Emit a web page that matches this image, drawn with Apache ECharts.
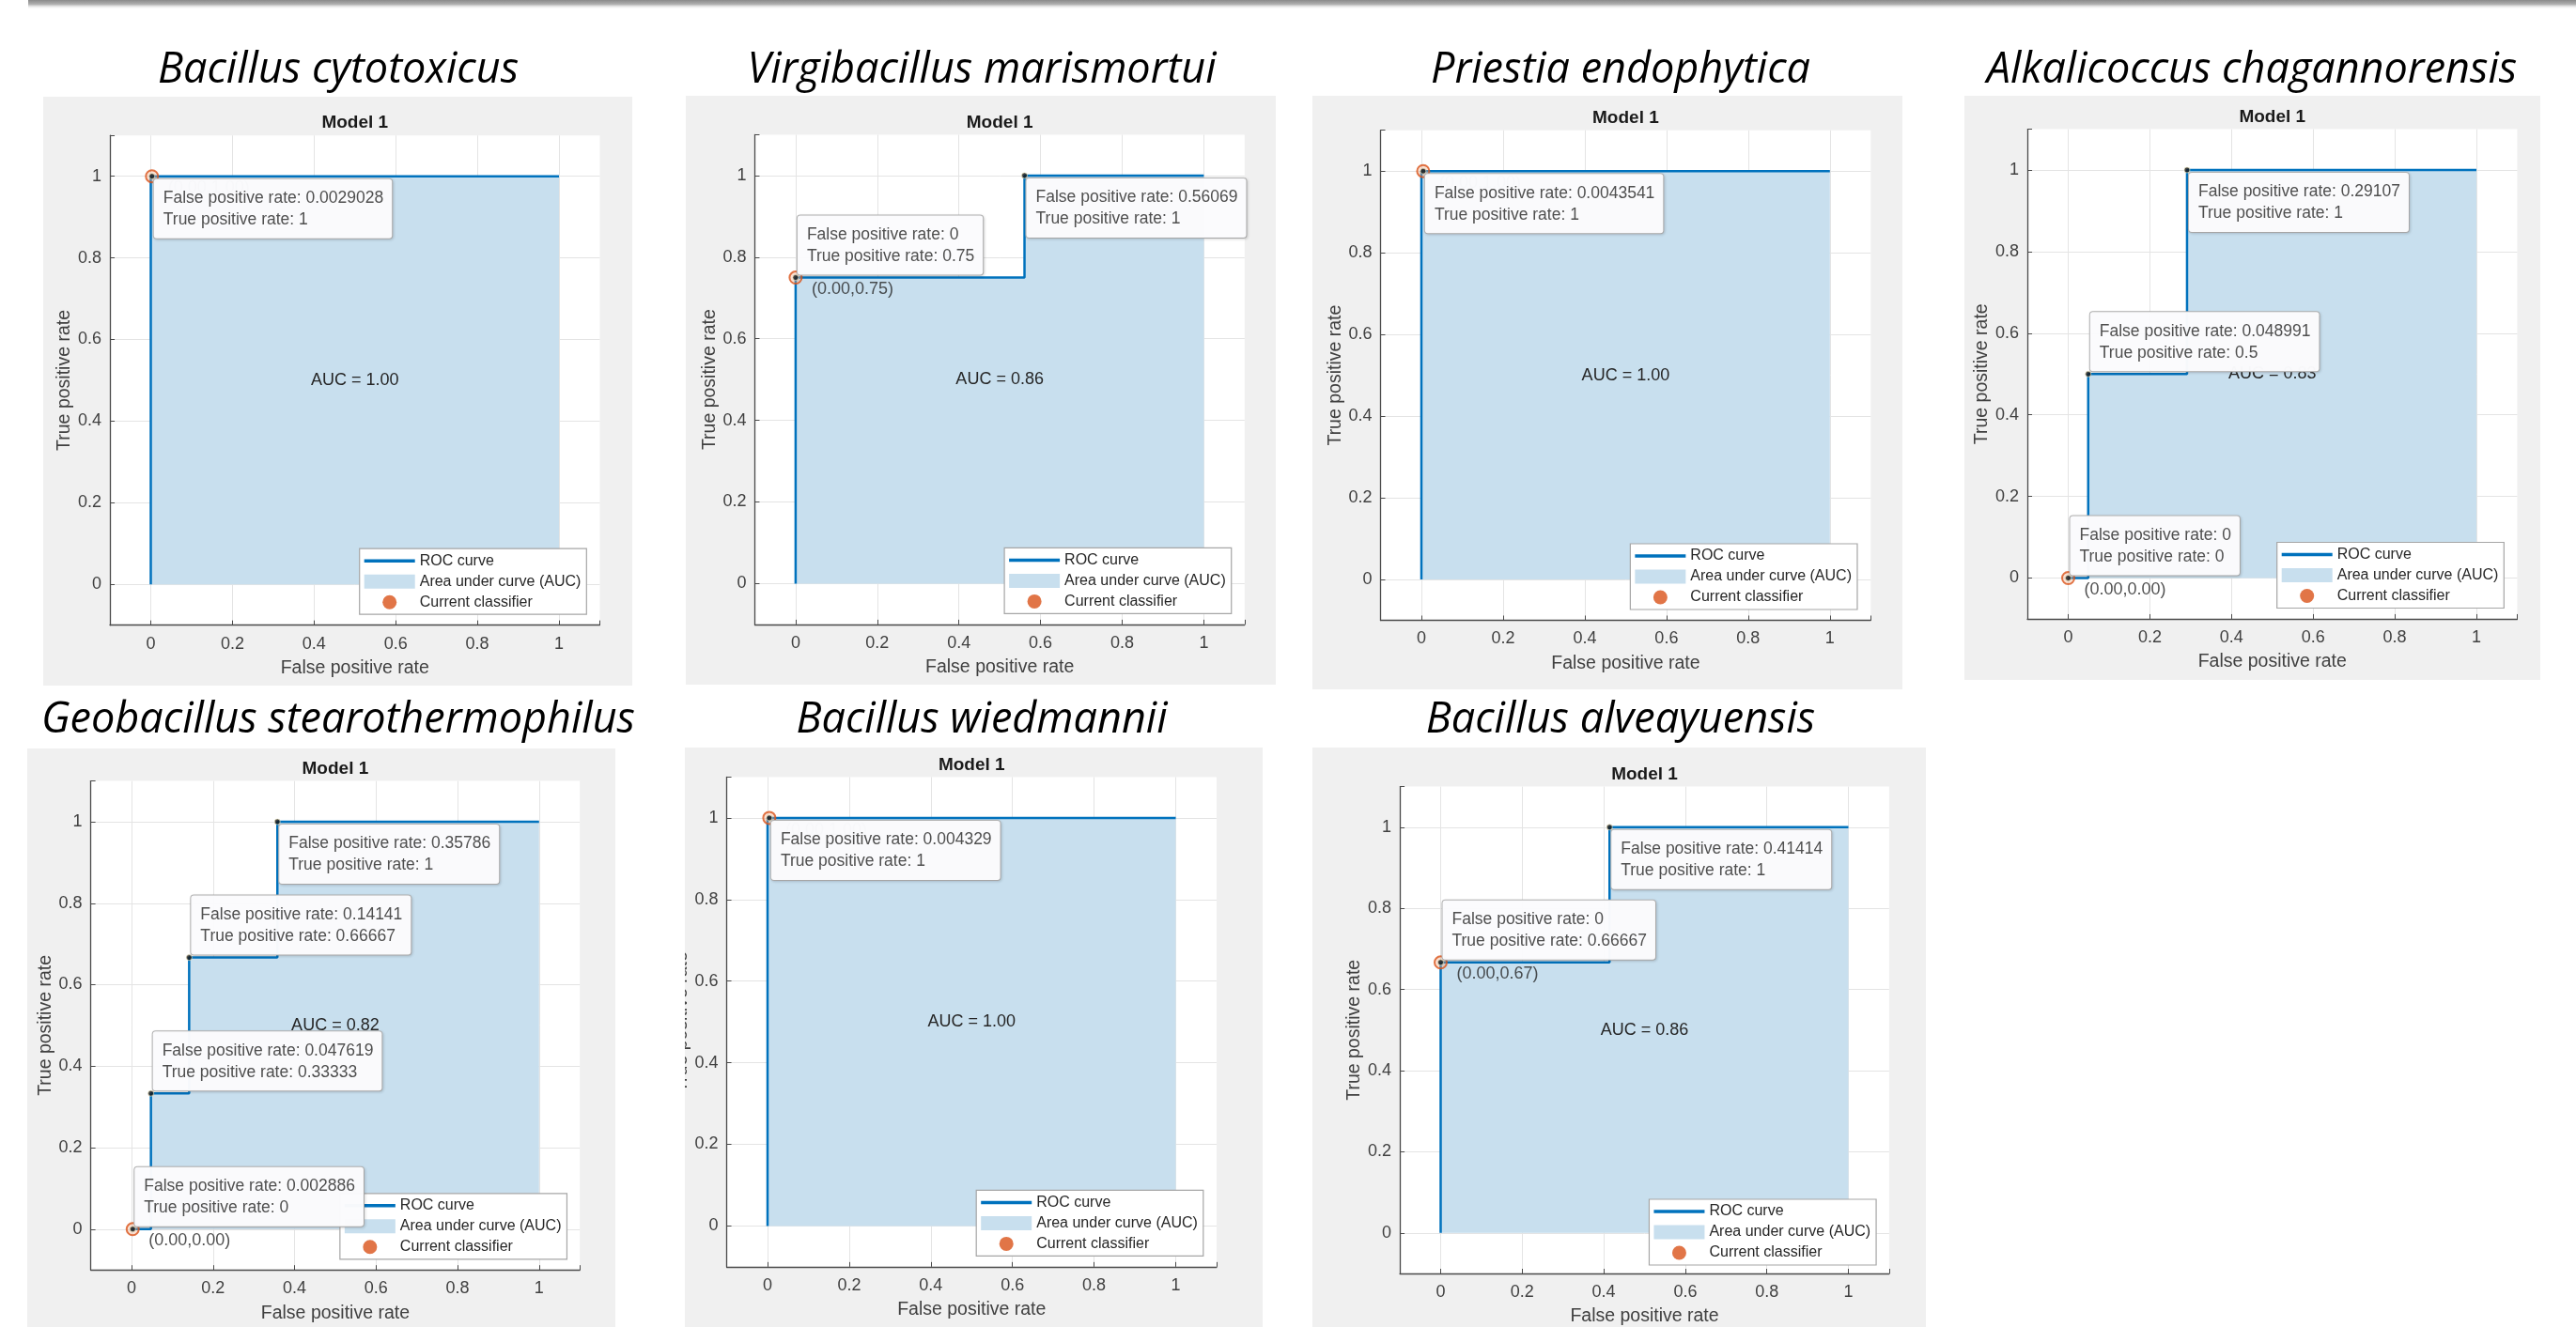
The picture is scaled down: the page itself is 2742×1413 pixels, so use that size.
<!DOCTYPE html>
<html><head><meta charset="utf-8">
<script src="https://cdn.jsdelivr.net/npm/echarts@6/dist/echarts.min.js"></script>
<style>html,body{margin:0;padding:0;background:#fff;}#c{width:2742px;height:1413px;}</style>
</head><body><div id="c"></div>
<script>
// ---------------- DATA ----------------
const speciesNames = ['Bacillus cytotoxicus','Virgibacillus marismortui','Priestia endophytica','Alkalicoccus chagannorensis','Geobacillus stearothermophilus','Bacillus wiedmannii','Bacillus alveayuensis'];
const modelTitle = 'Model 1';
const rocFpr = [
  [0, 0, 0.0029028, 1],
  [0, 0, 0.56069, 0.56069, 1],
  [0, 0, 0.0043541, 1],
  [0, 0.048991, 0.048991, 0.29107, 0.29107, 1],
  [0, 0.047619, 0.047619, 0.14141, 0.14141, 0.35786, 0.35786, 1],
  [0, 0, 0.004329, 1],
  [0, 0, 0.41414, 0.41414, 1]
];
const rocTpr = [
  [0, 1, 1, 1],
  [0, 0.75, 0.75, 1, 1],
  [0, 1, 1, 1],
  [0, 0, 0.5, 0.5, 1, 1],
  [0, 0, 0.33333, 0.33333, 0.66667, 0.66667, 1, 1],
  [0, 1, 1, 1],
  [0, 0.66667, 0.66667, 1, 1]
];
const aucValues = [1.00, 0.86, 1.00, 0.83, 0.82, 1.00, 0.86];
const classifierFpr = [0.0029028, 0, 0.0043541, 0, 0.002886, 0.004329, 0];
const classifierTpr = [1, 0.75, 1, 0, 0, 1, 0.66667];
const tipFpr = [[0.0029028], [0, 0.56069], [0.0043541], [0.29107, 0.048991, 0], [0.35786, 0.14141, 0.047619, 0.002886], [0.004329], [0.41414, 0]];
const tipTpr = [[1], [0.75, 1], [1], [1, 0.5, 0], [1, 0.66667, 0.33333, 0], [1], [1, 0.66667]];
const tickLabels = ['0', '0.2', '0.4', '0.6', '0.8', '1'];
const legendNames = ['ROC curve', 'Area under curve (AUC)', 'Current classifier'];
const xAxisName = 'False positive rate';
const yAxisName = 'True positive rate';

// ---------------- LAYOUT / STYLE ----------------
const tipPlace = [['below'], ['above', 'below'], ['below'], ['below', 'above', 'above'], ['below', 'above', 'above', 'above'], ['below'], ['below', 'above']];
const panels = [
  {x0: 160.5, y1: 187.7, u: 434.5, bg: [46, 103, 673, 730], tx: 360, ty: 75},
  {x0: 846.9, y1: 186.9, u: 434.5, bg: [730, 102, 1358, 729], tx: 1045, ty: 75},
  {x0: 1513, y1: 182.2, u: 434.8, bg: [1397, 102, 2025, 734], tx: 1725, ty: 75},
  {x0: 2201.5, y1: 181, u: 434.5, bg: [2091, 102, 2704, 724], tx: 2397, ty: 75},
  {x0: 140, y1: 875, u: 433.8, bg: [29, 797, 655, 1413], tx: 360, ty: 767},
  {x0: 817, y1: 870.9, u: 434.5, bg: [729, 796, 1344, 1413], tx: 1045, ty: 767},
  {x0: 1533.5, y1: 881, u: 434, bg: [1397, 796, 2050, 1413], tx: 1725, ty: 767}
];
const FONT = "'Liberation Sans', Arial, Helvetica, sans-serif";
const ROC = '#0072BD', FILL = '#c8dfee', ORANGE = '#D95319';
const AXIS = '#4a4a4a', LABEL = '#404040', GRIDC = '#e4e4e4';

function fmt(v) { return String(Number(v.toPrecision(5))); }
function tickFmt(v) {
  const idx = Math.round(v / 0.2);
  if (Math.abs(v - idx * 0.2) > 1e-6 || idx < 0 || idx > 5) return '';
  return tickLabels[idx];
}

const grid = [], xAxis = [], yAxis = [], series = [], legend = [], graphic = [];

graphic.push({type: 'rect', z: 50, silent: true, shape: {x: 30, y: 0, width: 2712, height: 10},
  style: {fill: new echarts.graphic.LinearGradient(0, 0, 0, 1, [{offset: 0, color: '#8a8a8a'}, {offset: 0.45, color: '#b0b0b0'}, {offset: 1, color: 'rgba(255,255,255,0)'}])}});

panels.forEach((p, i) => {
  const gl = p.x0 - 0.1 * p.u, gt = p.y1 - 0.1 * p.u, gs = 1.2 * p.u;
  graphic.push({type: 'rect', z: -1, silent: true, shape: {x: p.bg[0], y: p.bg[1], width: p.bg[2] - p.bg[0], height: p.bg[3] - p.bg[1]}, style: {fill: '#f0f0f0'}});
  graphic.push({type: 'text', z: 20, silent: true, x: p.tx, y: p.ty, style: {text: speciesNames[i], align: 'center', verticalAlign: 'middle', fontFamily: "'Open Sans'", fontStyle: 'italic', fontSize: 45, fill: '#000'}});
  graphic.push({type: 'text', z: 20, silent: true, x: p.x0 + 0.5 * p.u, y: gt - 13, style: {text: modelTitle, align: 'center', verticalAlign: 'middle', fontFamily: FONT, fontWeight: 'bold', fontSize: 19, fill: '#1a1a1a'}});

  grid.push({left: gl, top: gt, width: gs, height: gs, show: true, backgroundColor: '#ffffff', borderWidth: 0, containLabel: false});
  const axisCommon = {
    type: 'value', gridIndex: i, min: -0.1, max: 1.1, minInterval: 0.2, maxInterval: 0.2,
    nameLocation: 'middle',
    nameTextStyle: {fontFamily: FONT, fontSize: 19.5, color: LABEL},
    axisLine: {show: true, onZero: false, lineStyle: {color: AXIS, width: 1.3}},
    axisTick: {show: true, inside: true, length: 5, lineStyle: {color: AXIS, width: 1}},
    axisLabel: {formatter: tickFmt, fontFamily: FONT, fontSize: 18, color: LABEL},
    splitLine: {show: true, showMinLine: false, showMaxLine: false, lineStyle: {color: GRIDC, width: 1}}
  };
  xAxis.push(Object.assign({}, axisCommon, {position: 'bottom', name: xAxisName, nameGap: 36,
    axisLabel: Object.assign({}, axisCommon.axisLabel, {margin: 11})}));
  yAxis.push(Object.assign({}, axisCommon, {position: 'left', name: yAxisName, nameGap: 38,
    axisLabel: Object.assign({}, axisCommon.axisLabel, {margin: 9})}));

  const pts = rocFpr[i].map((x, k) => [x, rocTpr[i][k]]);
  series.push({type: 'line', name: legendNames[1], xAxisIndex: i, yAxisIndex: i, data: pts, symbol: 'none', showSymbol: false,
    lineStyle: {width: 0, color: FILL}, itemStyle: {color: FILL}, areaStyle: {color: FILL, opacity: 1}, z: 2, silent: true});
  series.push({type: 'line', name: legendNames[0], xAxisIndex: i, yAxisIndex: i, data: pts, symbol: 'none', showSymbol: false,
    lineStyle: {width: 2.5, color: ROC}, itemStyle: {color: ROC}, z: 3, silent: true});
  series.push({type: 'custom', name: 'AUC label', xAxisIndex: i, yAxisIndex: i, data: [[0.5, 0.5]], z: 3, silent: true,
    renderItem: (params, api) => {
      const c = api.coord([api.value(0), api.value(1)]);
      return {type: 'text', x: c[0], y: c[1], style: {text: 'AUC = ' + aucValues[i].toFixed(2), align: 'center', verticalAlign: 'middle', fontFamily: FONT, fontSize: 18, fill: '#262626'}};
    }});
  series.push({type: 'scatter', name: legendNames[2], xAxisIndex: i, yAxisIndex: i, data: [[classifierFpr[i], classifierTpr[i]]],
    symbol: 'circle', symbolSize: 13, z: 4, silent: true,
    itemStyle: {color: 'rgba(240,170,130,0.45)', borderColor: ORANGE, borderWidth: 2},
    label: {show: true, position: 'right', distance: 9.5, offset: [0, 12.7], fontFamily: FONT, fontSize: 18, color: '#262626',
      formatter: q => '(' + q.value[0].toFixed(2) + ',' + q.value[1].toFixed(2) + ')'}});
  const tips = tipFpr[i].map((x, k) => [x, tipTpr[i][k]]);
  series.push({type: 'scatter', name: 'Data tip', xAxisIndex: i, yAxisIndex: i, data: tips, symbol: 'circle', symbolSize: 6,
    itemStyle: {color: '#151515', borderColor: '#f5f0c8', borderWidth: 0.8}, z: 5, silent: true});
  series.push({type: 'custom', name: 'Data tip box', xAxisIndex: i, yAxisIndex: i, data: tips, z: 10, silent: true, clip: false,
    renderItem: (params, api) => {
      const fx = api.value(0), ty = api.value(1);
      const c = api.coord([fx, ty]);
      const above = tipPlace[i][params.dataIndex] === 'above';
      return {type: 'text', x: c[0] + 2, y: above ? c[1] - 3 : c[1] + 3, z2: 10,
        style: {text: 'False positive rate: ' + fmt(fx) + '\nTrue positive rate: ' + fmt(ty),
          align: 'left', verticalAlign: above ? 'bottom' : 'top',
          fontFamily: FONT, fontSize: 17.5, lineHeight: 23, fill: '#4f4f4f',
          backgroundColor: 'rgba(251,251,253,0.98)', borderColor: '#b4b4b4', borderWidth: 1, borderRadius: 3,
          padding: [9, 9, 8, 10], shadowColor: 'rgba(0,0,0,0.12)', shadowBlur: 3, shadowOffsetX: 1, shadowOffsetY: 1}};
    }});

  legend.push({show: true, orient: 'vertical', left: p.x0 + 0.5114 * p.u, top: p.y1 + p.u - 38, selectedMode: false,
    itemWidth: 54, itemHeight: 15, itemGap: 6, padding: [5, 6, 5, 5],
    backgroundColor: '#ffffff', borderColor: '#a6a6a6', borderWidth: 1.2, borderRadius: 0, z: 6,
    textStyle: {fontFamily: FONT, fontSize: 16, color: '#262626'},
    itemStyle: {borderWidth: 0},
    data: [
      {name: legendNames[0], icon: 'path://M0,0H54V3.5H0Z', itemStyle: {color: ROC, borderWidth: 0}},
      {name: legendNames[1], icon: 'rect', itemStyle: {color: FILL, borderWidth: 0}},
      {name: legendNames[2], icon: 'circle', itemStyle: {color: ORANGE, borderWidth: 0}}
    ]});
});
// panel 6: y-axis name is clipped by the figure edge
graphic.push({type: 'rect', z: 100, silent: true, shape: {x: 690, y: 790, width: 39, height: 623}, style: {fill: '#ffffff'}});

const chart = echarts.init(document.getElementById('c'), null, {renderer: 'canvas'});
chart.setOption({
  backgroundColor: '#ffffff', animation: false, tooltip: {show: false},
  grid, xAxis, yAxis, series, legend, graphic
});
</script></body></html>
